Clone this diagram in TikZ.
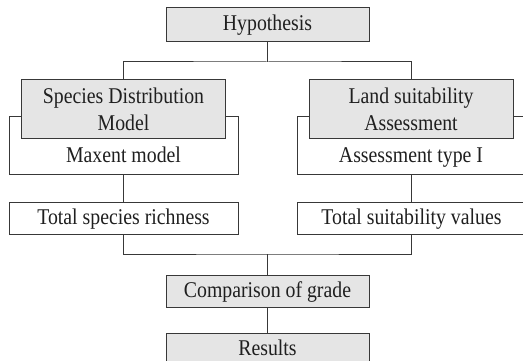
\documentclass[tikz,border=0pt]{standalone}
\usepackage{fontspec}
\setmainfont{Liberation Serif}[FakeStretch=0.88]
\begin{document}
\begin{tikzpicture}[x=1pt,y=-1pt,
  every node/.style={font=\fontsize{22.5}{27}\selectfont, text=black!88},
  graybox/.style={draw=black!78, line width=1pt, fill=black!10, inner sep=0pt, align=center},
  whitebox/.style={draw=black!78, line width=1pt, fill=white, inner sep=0pt, align=center},
  oneline/.style={text height=16pt, text depth=4pt},
  conn/.style={draw=black!78, line width=1pt}]
\useasboundingbox (0,0) rectangle (523,361);
\clip (0,0) rectangle (523,361);

% top
\node[graybox, oneline, minimum width=203pt, minimum height=34pt] (hyp) at (267.5,25) {Hypothesis};

% left column
\node[whitebox, minimum width=229pt, minimum height=58pt] (sdmo) at (123.5,146) {};
\node[graybox, minimum width=204pt, minimum height=59pt] (sdm) at (123.5,109.5) {Species Distribution\\Model};
\node[anchor=base, inner sep=0pt] (maxent) at (123.5,162) {Maxent model};
\node[whitebox, oneline, minimum width=229pt, minimum height=32pt] (tsr) at (123.5,218) {Total species richness};

% right column
\node[whitebox, minimum width=229pt, minimum height=58pt] (lsao) at (411.5,146) {};
\node[graybox, minimum width=204pt, minimum height=59pt] (lsa) at (411,109.5) {Land suitability\\Assessment};
\node[anchor=base, inner sep=0pt] (atype) at (411,163) {Assessment type I};
\node[whitebox, oneline, minimum width=229pt, minimum height=32pt] (tsv) at (411.5,218) {Total suitability values};

% bottom
\node[graybox, oneline, minimum width=203pt, minimum height=32pt] (cmp) at (267.5,291) {Comparison of grade};
\node[graybox, oneline, minimum width=203pt, minimum height=32pt] (res) at (267.5,349) {Results};

% connectors
\coordinate (split) at (267.5,62);
\coordinate (merge) at (267.5,254);
\draw[conn] (hyp.south) -- (split);
\draw[conn] (sdm.north) |- (split) -| (lsa.north);
\draw[conn] (sdmo.south) -- (tsr.north);
\draw[conn] (lsao.south -| lsa.south) -- (tsv.north -| lsa.south);
\draw[conn] (tsr.south) |- (merge) -| (tsv.south -| lsa.south);
\draw[conn] (merge) -- (cmp.north);
\draw[conn] (cmp.south) -- (res.north);
\end{tikzpicture}
\end{document}
